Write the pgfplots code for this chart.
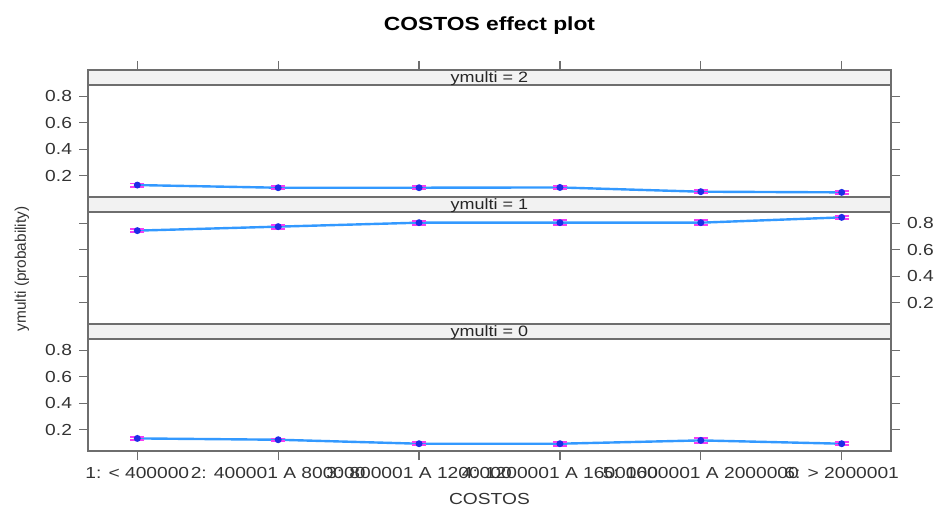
\documentclass[border=0pt]{standalone}
\usepackage{fontspec}
\setmainfont{Liberation Sans}[FakeStretch=1.2]
\newfontfamily\plainsans{Liberation Sans}
\usepackage{pgfplots}
\pgfplotsset{compat=1.18}
\definecolor{fitblue}{HTML}{3399FF}
\definecolor{ptblue}{HTML}{1E2DE6}
\definecolor{barpink}{HTML}{F53CF5}
\definecolor{stripgray}{HTML}{F2F2F2}
\definecolor{framegray}{HTML}{6E6E6E}

\pgfplotsset{
  panel/.style={
    scale only axis, width=401.5pt, height=63.5pt,
    xmin=0.65, xmax=6.35, ymin=0.04, ymax=0.999,
    xtick={1,...,6}, ytick={0.2,0.4,0.6,0.8},
    tick align=outside, major tick length=4.5pt,
    axis line style={framegray, line width=0.7pt},
    every tick/.style={framegray, line width=0.6pt},
    tick label style={font=\fontsize{8}{9}\selectfont, text=black!80},
    /pgf/number format/assume math mode=true,
    ytick pos=both, clip=false,
  },
  effect/.style={
    fitblue, line width=1.2pt, mark=*, mark size=1.1pt,
    mark options={ptblue, fill=ptblue},
    error bars/.cd, y dir=both, y explicit,
    error bar style={barpink, line width=0.8pt},
    error mark options={rotate=90, barpink, mark size=3.5pt, line width=0.9pt},
  },
}
\newcommand{\strip}[1]{%
  \draw[framegray, line width=0.7pt, fill=stripgray] (axis cs:0.65,0.885) rectangle (axis cs:6.35,0.999);
  \node[font=\fontsize{7.5}{9}\selectfont, text=black!85, inner sep=0pt] at (axis cs:3.5,0.937) {#1};
}

\begin{document}
\begin{tikzpicture}
\useasboundingbox (-44pt,-28.5pt) rectangle (424pt,225.5pt);

% ymulti = 2
\begin{axis}[panel, at={(0,127pt)}, xtick pos=top, xticklabels={}, yticklabel pos=left]
\addplot[effect] coordinates {
  (1,0.130) +- (0,0.012)
  (2,0.110) +- (0,0.010)
  (3,0.110) +- (0,0.010)
  (4,0.112) +- (0,0.012)
  (5,0.080) +- (0,0.010)
  (6,0.075) +- (0,0.010)
};
\strip{ymulti = 2}
\node[font=\bfseries\fontsize{9.5}{11}\selectfont] at (rel axis cs:0.5,1) [yshift=22pt] {COSTOS effect plot};
\end{axis}

% ymulti = 1
\begin{axis}[panel, at={(0,63.5pt)}, xtick=\empty, yticklabel pos=right]
\addplot[effect] coordinates {
  (1,0.745) +- (0,0.012)
  (2,0.775) +- (0,0.015)
  (3,0.805) +- (0,0.015)
  (4,0.805) +- (0,0.020)
  (5,0.805) +- (0,0.020)
  (6,0.845) +- (0,0.012)
};
\strip{ymulti = 1}
\end{axis}

% ymulti = 0
\begin{axis}[panel, at={(0,0)}, xtick pos=bottom, yticklabel pos=left,
  xticklabels={{1: < 400000},{2: 400001 A 800000},{3: 800001 A 1200000},{4: 1200001 A 1600000},{5: 1600001 A 2000000},{6: > 2000001}}]
\addplot[effect] coordinates {
  (1,0.135) +- (0,0.012)
  (2,0.125) +- (0,0.010)
  (3,0.095) +- (0,0.012)
  (4,0.095) +- (0,0.015)
  (5,0.120) +- (0,0.020)
  (6,0.095) +- (0,0.010)
};
\strip{ymulti = 0}
\node[font=\fontsize{8}{9}\selectfont, text=black!80] at (rel axis cs:0.5,0) [yshift=-24pt] {COSTOS};
\end{axis}

\node[font=\plainsans\fontsize{7.7}{9}\selectfont, text=black!80, rotate=90] at (-33pt,91pt) {ymulti (probability)};
\end{tikzpicture}
\end{document}
